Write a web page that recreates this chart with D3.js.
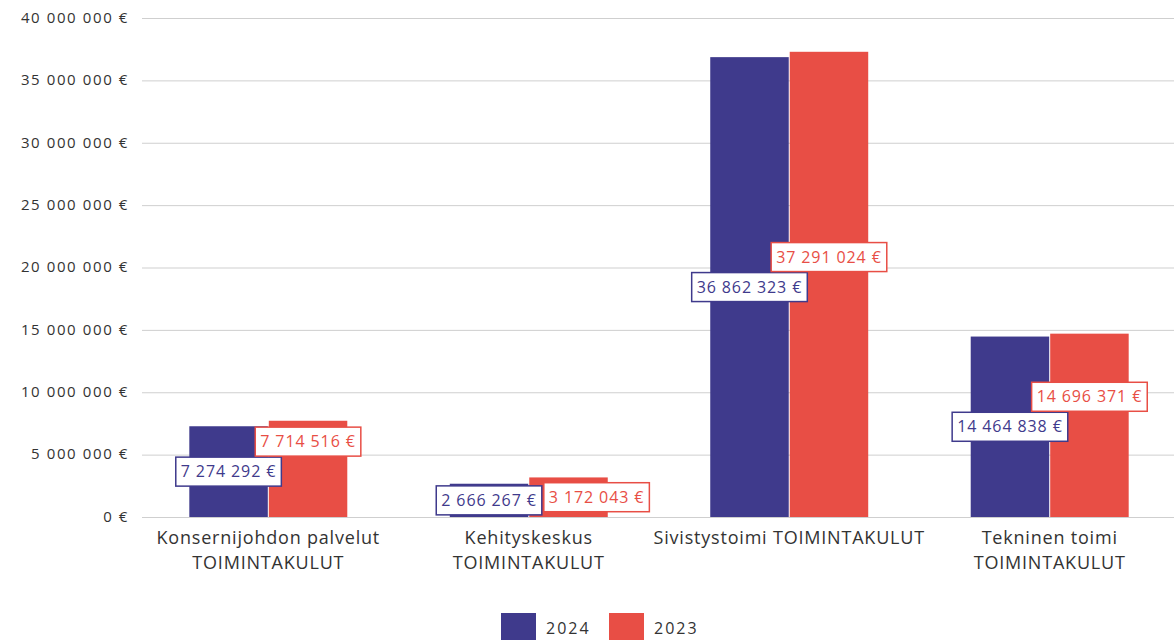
<!DOCTYPE html>
<html><head><meta charset="utf-8">
<script src="https://cdn.jsdelivr.net/npm/d3@7"></script>
<style>
body{margin:0;background:#fff;}
svg{font-family:"Open Sans",sans-serif;}
</style></head><body>
<svg id="c" width="1174" height="642"></svg>
<script>
const categories = [
  ["Konsernijohdon palvelut","TOIMINTAKULUT"],
  ["Kehityskeskus","TOIMINTAKULUT"],
  ["Sivistystoimi TOIMINTAKULUT"],
  ["Tekninen toimi","TOIMINTAKULUT"]
];
const seriesNames = ["2024","2023"];
const values2024 = [7274292, 2666267, 36862323, 14464838];
const values2023 = [7714516, 3172043, 37291024, 14696371];
const yTicks = [0,5000000,10000000,15000000,20000000,25000000,30000000,35000000,40000000];
const colors = ["#3f3a8c","#e84e45"];

const svg = d3.select("#c");
const m = {left:138, right:1180, top:18, bottom:517};
const x = d3.scaleBand().domain(d3.range(categories.length)).range([m.left,m.right]).paddingInner(0.3935).paddingOuter(0.197);
const xs = d3.scaleBand().domain([0,1]).range([0,x.bandwidth()]).paddingInner(0.0125);
const y = d3.scaleLinear().domain([0,40000000]).range([m.bottom,m.top]);

const fmt = v => d3.format(",")(v).replace(/,/g," ") + " €";
const fmtTick = v => (v===0?"0":d3.format(",")(v).replace(/,/g," ")) + " €";

// grid
svg.append("g").selectAll("line").data(yTicks).join("line")
  .attr("x1",142).attr("x2",1174).attr("y1",d=>y(d)+0.5).attr("y2",d=>y(d)+0.5)
  .attr("stroke","#cfcfcf").attr("stroke-width",1);
svg.append("g").selectAll("text").data(yTicks).join("text")
  .attr("x",129).attr("y",d=>y(d)).attr("dy","0.32em").attr("text-anchor","end")
  .attr("font-size",15).attr("fill","#333").attr("letter-spacing","1.6")
  .text(fmtTick);

const series = [values2024, values2023];
series.forEach((vals,si)=>{
  svg.append("g").selectAll("rect").data(vals).join("rect")
    .attr("x",(d,i)=>x(i)+xs(si)).attr("width",xs.bandwidth())
    .attr("y",d=>y(d)).attr("height",d=>y(0)-y(d))
    .attr("fill",colors[si]);
});

// labels
const lg = svg.append("g");
const boxH = 29;
categories.forEach((c,i)=>{
  const boxes = [];
  series.forEach((vals,si)=>{
    const v = vals[i];
    const t = lg.append("text").attr("font-size",16).attr("fill",colors[si]).attr("letter-spacing","0.9").text(fmt(v));
    const w = t.node().getComputedTextLength()+10;
    let cx = x(i)+xs(si)+xs.bandwidth()/2;
    let cy = (y(v)+y(0))/2;
    if(si===1){
      const b = boxes[0];
      if(cx - w/2 < b.x + b.w + 1){
        const barH = y(0)-y(v);
        if(barH > 2*boxH+10){ cy = Math.min(cy, b.cy - boxH - 1); }
        else { cx = b.x + b.w + 2 + w/2; }
      }
    }
    const bx = cx - w/2, by = cy - boxH/2;
    boxes.push({x:bx,w:w,cy:cy});
    lg.append("rect").attr("x",bx).attr("y",by).attr("width",w).attr("height",boxH)
      .attr("fill","#fff").attr("stroke",colors[si]).attr("stroke-width",1.5);
    t.attr("x",cx).attr("y",cy).attr("dy","0.35em").attr("text-anchor","middle").raise();
  });
});

// category labels
categories.forEach((lines,i)=>{
  const t = svg.append("text").attr("text-anchor","middle").attr("font-size",18).attr("fill","#333").attr("letter-spacing","0.8");
  lines.forEach((l,k)=>t.append("tspan").attr("x",x(i)+x.bandwidth()/2).attr("y",544+k*25).text(l));
});

// legend
const leg = svg.append("g");
const legX = [501, 609];
seriesNames.forEach((n,si)=>{
  leg.append("rect").attr("x",legX[si]).attr("y",613).attr("width",35).attr("height",27).attr("fill",colors[si]);
  leg.append("text").attr("x",legX[si]+45).attr("y",628).attr("dy","0.35em").attr("font-size",16).attr("fill","#333").attr("letter-spacing","2").text(n);
});
</script></body></html>
